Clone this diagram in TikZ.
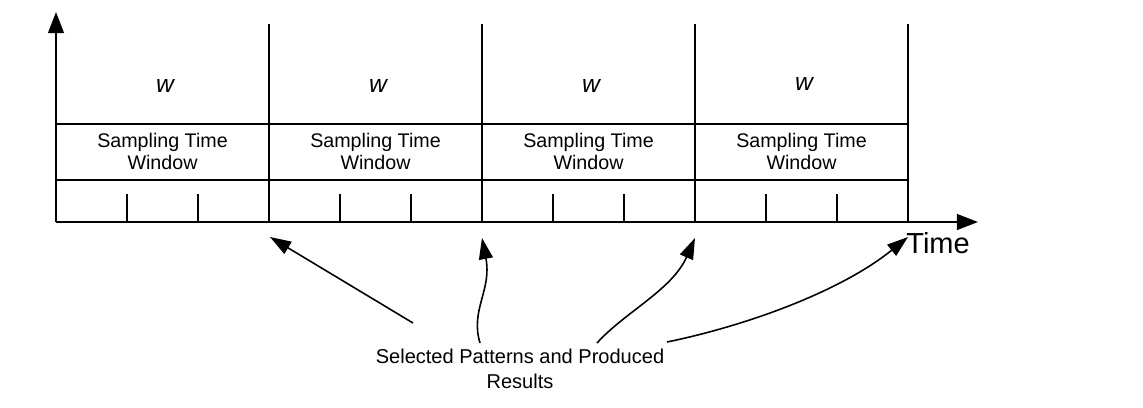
\documentclass[tikz,border=0pt]{standalone}
\usepackage{fontspec}
\setmainfont{Liberation Sans}
\usetikzlibrary{arrows.meta}

\tikzset{
    axis/.style={line width=1pt,-{Triangle[length=12pt,width=9pt]}},
    frame/.style={line width=1pt},
    pointer/.style={line width=0.9pt,-{Triangle[length=12pt,width=8pt]}},
    winlabel/.style={align=center,font=\fontsize{11.2}{12.5}\selectfont},
    wlabel/.style={font=\fontsize{14}{16}\selectfont\itshape},
}

\begin{document}
\begin{tikzpicture}[x=0.02cm,y=-0.02cm]
        \useasboundingbox (0,0) rectangle (1143,407);

        % axes
        \coordinate (origin) at (56,222);
        \coordinate (ytip) at (56,12);
        \coordinate (xtip) at (978,222);
        \draw[axis] (origin) -- (ytip);
        \draw[axis] (origin) -- (xtip);
        \node[anchor=west,font=\fontsize{16.5}{18}\selectfont,inner sep=0pt] (time) at (906,243) {Time};

        % windows
        \draw[frame] (56,124) -- (908,124);
        \draw[frame] (56,180) -- (908,180);
        \draw[frame] (269,24) -- (269,222);
        \draw[frame] (482,24) -- (482,222);
        \draw[frame] (695,24) -- (695,222);
        \draw[frame] (908,24) -- (908,222);

        \draw[frame] (127,194) -- (127,222);
        \draw[frame] (198,194) -- (198,222);
        \draw[frame] (340,194) -- (340,222);
        \draw[frame] (411,194) -- (411,222);
        \draw[frame] (553,194) -- (553,222);
        \draw[frame] (624,194) -- (624,222);
        \draw[frame] (766,194) -- (766,222);
        \draw[frame] (837,194) -- (837,222);

        \node[wlabel] (w1) at (165,86) {w};
        \node[wlabel] (w2) at (378,86) {w};
        \node[wlabel] (w3) at (591,86) {w};
        \node[wlabel] (w4) at (804,84) {w};

        \node[winlabel] (win1) at (162.5,151) {Sampling Time\\Window};
        \node[winlabel] (win2) at (375.5,151) {Sampling Time\\Window};
        \node[winlabel] (win3) at (588.5,151) {Sampling Time\\Window};
        \node[winlabel] (win4) at (801.5,151) {Sampling Time\\Window};

        % selected patterns
        \node[winlabel,font=\fontsize{11.4}{14}\selectfont] (sel) at (520,369) {Selected Patterns and Produced\\Results};

        \coordinate (tail1) at (413,323);
        \coordinate (tail2) at (480,343);
        \coordinate (tail3) at (597,343);
        \coordinate (tail4) at (667,342);
        \coordinate (tip1) at (270,237);
        \coordinate (tip2) at (482,238);
        \coordinate (tip3) at (695,238);
        \coordinate (tip4) at (908,237);

        \draw[pointer] (tail1) -- (tip1);
        \draw[pointer] (tail2) .. controls (470,310) and (492,290) .. (tip2);
        \draw[pointer] (tail3) .. controls (625,312) and (672,290) .. (tip3);
        \draw[pointer] (tail4) .. controls (745,326) and (840,292) .. (tip4);

    \end{tikzpicture}
\end{document}
